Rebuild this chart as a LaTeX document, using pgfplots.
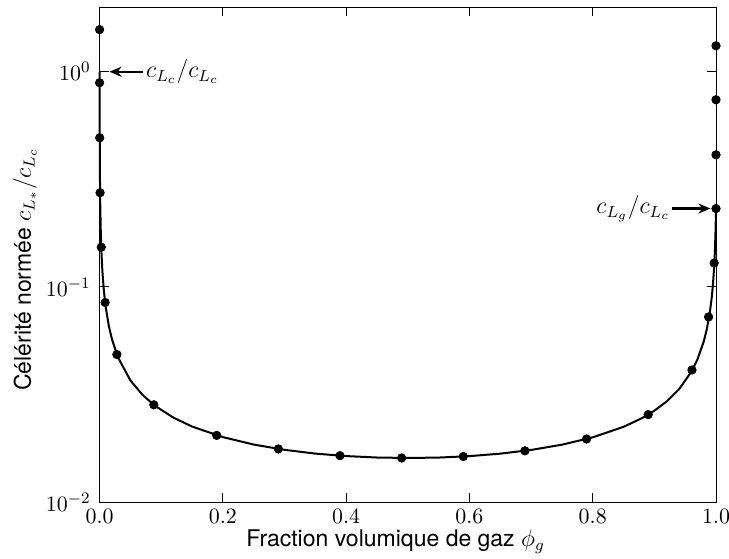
\documentclass[border=0pt]{standalone}
\usepackage{fontspec}
\setmainfont{TeX Gyre Heros}
\usepackage{pgfplots}
\pgfplotsset{compat=1.18}
\usetikzlibrary{arrows.meta}

\begin{document}
\begin{tikzpicture}
\begin{axis}[
  width=308.2pt, height=247.5pt, scale only axis,
  xmin=0, xmax=1, ymode=log, log basis y=10, ymin=0.01, ymax=2,
  xtick={0,0.2,0.4,0.6,0.8,1.0},
  xticklabels={$0.0$,$0.2$,$0.4$,$0.6$,$0.8$,$1.0$},
  ytick={0.01,0.1,1},
  yticklabels={$10^{-2}$,$10^{-1}$,$10^{0}$},
  tick align=inside, xtick pos=both, ytick pos=both,
  major tick length=4.5pt, minor tick length=2.3pt,
  every tick/.style={black, line width=0.5pt},
  axis line style={black, line width=0.5pt},
  tick label style={font=\fontsize{11}{13}\selectfont},
  xticklabel style={inner sep=0.5pt, yshift=-3.2pt},
  yticklabel style={xshift=-1pt},
  label style={font=\fontsize{11.5}{14}\selectfont},
  xlabel={Fraction volumique de gaz $\phi_g$},
  ylabel={Célérité normée $c_{L_*}/c_{L_c}$},
  xlabel style={inner sep=0.5pt, at={([yshift=-19.8pt]axis description cs:0.48,0)}, anchor=center},
  ylabel style={at={([xshift=-37.3pt]axis description cs:0,0.47)}, anchor=center},
  clip=false,
]
% curve
\addplot[black, line width=1pt, no marks] coordinates {
(0,1.0) (0.00001,0.9302) (0.00003,0.8256) (0.0001,0.6253) (0.0003,0.4199)
(0.0005,0.3374) (0.001,0.2457) (0.002,0.17654) (0.003,0.14497) (0.004,0.12594)
(0.005,0.11288) (0.007,0.09567) (0.009,0.08455) (0.01,0.0803) (0.015,0.06578)
(0.02,0.05714) (0.03,0.04692) (0.05,0.03674) (0.07,0.03139) (0.09,0.02799)
(0.12,0.02465) (0.15,0.02243) (0.2,0.02003) (0.25,0.01850) (0.3,0.01748)
(0.35,0.01679) (0.4,0.01635) (0.45,0.01610) (0.5,0.01602) (0.55,0.01609)
(0.6,0.01634) (0.65,0.01678) (0.7,0.01746) (0.75,0.01847) (0.8,0.01998)
(0.85,0.02236) (0.88,0.02455) (0.9,0.02657) (0.92,0.02933) (0.94,0.03343)
(0.96,0.04031) (0.97,0.04609) (0.98,0.05562) (0.985,0.06347) (0.99,0.07613)
(0.993,0.08884) (0.995,0.10206) (0.997,0.12388) (0.998,0.14184) (0.999,0.17096)
(0.9995,0.19442) (1.0,0.2313)
};
% markers
\addplot[only marks, mark=*, mark size=2.1pt, black] coordinates {
(0,1.57) (0,0.889) (0.0002,0.493) (0.0008,0.274) (0.0027,0.153)
(0.009,0.0846) (0.028,0.0485) (0.088,0.0283) (0.19,0.0204) (0.29,0.01765)
(0.39,0.01642) (0.49,0.01602) (0.59,0.01628) (0.69,0.01730) (0.79,0.01963)
(0.89,0.02548) (0.961,0.0411) (0.988,0.0725) (0.997,0.129)
(1,0.2313) (1,0.411) (1,0.741) (1,1.32)
};
% annotations
\draw[line width=1.2pt, -{Stealth[length=6pt,width=5pt]}] (axis cs:0.0705,1) -- (axis cs:0.016,1);
\node[anchor=west, inner sep=0pt, font=\fontsize{11.5}{14}\selectfont] at (axis cs:0.075,1) {$c_{L_c}/c_{L_c}$};
\draw[line width=1.2pt, -{Stealth[length=6pt,width=5pt]}] (axis cs:0.929,0.2313) -- (axis cs:0.991,0.2313);
\node[anchor=east, inner sep=0pt, font=\fontsize{11.5}{14}\selectfont] at (axis cs:0.926,0.2313) {$c_{L_g}/c_{L_c}$};
\end{axis}
\pgfresetboundingbox
\path[use as bounding box] ([xshift=-49.8pt,yshift=-28pt]current axis.south west) rectangle ([xshift=6.5pt,yshift=3.5pt]current axis.north east);
\end{tikzpicture}
\end{document}
